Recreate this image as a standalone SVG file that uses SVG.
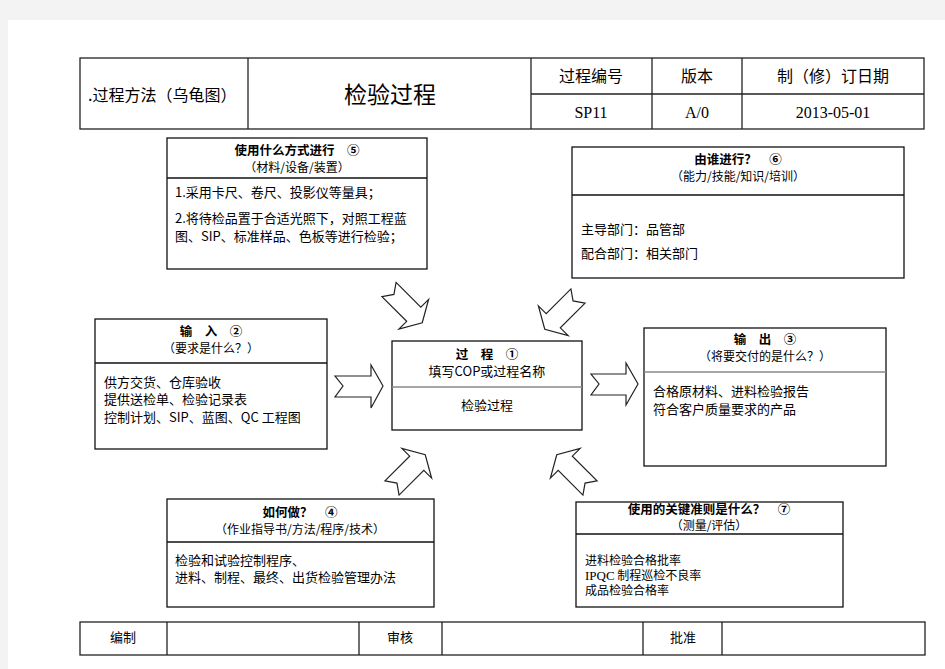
<svg xmlns="http://www.w3.org/2000/svg" width="945" height="669" viewBox="0 0 945 669">
<defs>
<style>
.t{font-family:"Noto Sans CJK SC","Liberation Sans",sans-serif;fill:#000}
.s{font-family:"Liberation Serif","Noto Sans CJK SC",serif;fill:#000}
.b{font-size:13px}
.h{font-size:12.5px;font-weight:bold}
.st{font-size:12px}
.sm{font-size:12px}
.box{fill:#fff;stroke:#111;stroke-width:1.3}
.sep{stroke:#111;stroke-width:1.6}
.sepg{stroke:#888;stroke-width:1.3}
.cell{fill:none;stroke:#222;stroke-width:1.3}
.arr{fill:#fff;stroke:#222;stroke-width:1.2;stroke-linejoin:miter}
</style>
<polygon id="ar" points="0,-10 35,-10 35,-21 47,0 35,21 35,10 0,10 7,0"/>
</defs>
<rect x="0" y="0" width="945" height="669" fill="#f3f3f3"/>
<rect x="8" y="20" width="937" height="649" fill="#fff"/>

<g id="header">
<rect x="80" y="58" width="844" height="71" class="cell"/>
<line x1="248" y1="58" x2="248" y2="129" class="cell" stroke="#888"/>
<line x1="531" y1="58" x2="531" y2="129" class="cell" stroke="#888"/>
<line x1="652" y1="58" x2="652" y2="129" class="cell" stroke="#888"/>
<line x1="742" y1="58" x2="742" y2="129" class="cell"/>
<line x1="531" y1="94" x2="924" y2="94" class="cell"/>
<text x="88" y="101" class="t" font-size="16">.过程方法（乌龟图）</text>
<text x="390" y="103" class="t" font-size="23" text-anchor="middle">检验过程</text>
<text x="591" y="82" class="t" font-size="16" text-anchor="middle">过程编号</text>
<text x="697" y="82" class="t" font-size="16" text-anchor="middle">版本</text>
<text x="833" y="82" class="t" font-size="16" text-anchor="middle">制（修）订日期</text>
<text x="591" y="118" class="s" font-size="16" text-anchor="middle">SP11</text>
<text x="697" y="118" class="s" font-size="16" text-anchor="middle">A/0</text>
<text x="833" y="118" class="s" font-size="16" text-anchor="middle">2013-05-01</text>
</g>

<g id="node5">
<rect x="167" y="138" width="260" height="131" class="box"/>
<line x1="167" y1="178" x2="427" y2="178" class="sep"/>
<text x="297" y="155" class="t h" text-anchor="middle">使用什么方式进行　⑤</text>
<text x="297" y="172" class="t st" text-anchor="middle">（材料/设备/装置）</text>
<text x="175" y="197" class="t b">1.采用卡尺、卷尺、投影仪等量具；</text>
<text x="175" y="223" class="t b">2.将待检品置于合适光照下，对照工程蓝</text>
<text x="175" y="241" class="t b">图、SIP、标准样品、色板等进行检验；</text>
</g>

<g id="node6">
<rect x="572" y="147" width="332" height="131" class="box"/>
<line x1="572" y1="195" x2="904" y2="195" class="sep"/>
<text x="738" y="164" class="t h" text-anchor="middle">由谁进行？　⑥</text>
<text x="738" y="181" class="t st" text-anchor="middle">（能力/技能/知识/培训）</text>
<text x="581" y="234" class="t b">主导部门：品管部</text>
<text x="581" y="258" class="t b">配合部门：相关部门</text>
</g>

<g id="node2">
<rect x="95" y="319" width="232" height="130" class="box"/>
<line x1="95" y1="363" x2="327" y2="363" class="sep"/>
<text x="211" y="336" class="t h" text-anchor="middle">输　入　②</text>
<text x="211" y="353" class="t st" text-anchor="middle">（要求是什么？）</text>
<text x="104" y="387" class="t b">供方交货、仓库验收</text>
<text x="104" y="404" class="t b">提供送检单、检验记录表</text>
<text x="104" y="422" class="t b">控制计划、SIP、蓝图、QC 工程图</text>
</g>

<g id="node1">
<rect x="392" y="341" width="190" height="89" class="box"/>
<line x1="392" y1="387" x2="582" y2="387" class="sepg"/>
<text x="487" y="359" class="t h" text-anchor="middle">过　程　①</text>
<text x="487" y="376" class="t b" text-anchor="middle">填写COP或过程名称</text>
<text x="487" y="410" class="t b" text-anchor="middle">检验过程</text>
</g>

<g id="node3">
<rect x="644" y="328" width="242" height="138" class="box"/>
<line x1="644" y1="372" x2="886" y2="372" class="sepg"/>
<text x="765" y="344" class="t h" text-anchor="middle">输　出　③</text>
<text x="765" y="361" class="t st" text-anchor="middle">（将要交付的是什么？）</text>
<text x="653" y="396" class="t b">合格原材料、进料检验报告</text>
<text x="653" y="414" class="t b">符合客户质量要求的产品</text>
</g>

<g id="node4">
<rect x="167" y="499" width="267" height="108" class="box"/>
<line x1="167" y1="542" x2="434" y2="542" class="sep"/>
<text x="300" y="517" class="t h" text-anchor="middle">如何做？　④</text>
<text x="300" y="534" class="t st" text-anchor="middle">（作业指导书/方法/程序/技术）</text>
<text x="175" y="565" class="t b">检验和试验控制程序、</text>
<text x="175" y="582" class="t b">进料、制程、最终、出货检验管理办法</text>
</g>

<g id="node7">
<rect x="576" y="502" width="267" height="105" class="box"/>
<line x1="576" y1="534" x2="843" y2="534" class="sep"/>
<text x="709" y="514" class="t h" text-anchor="middle">使用的关键准则是什么？　⑦</text>
<text x="709" y="530" class="t st" text-anchor="middle">（测量/评估）</text>
<text x="585" y="565" class="t sm">进料检验合格批率</text>
<text x="585" y="580" class="t sm"><tspan class="s" fill="#800000" font-size="13">IPQC</tspan> 制程巡检不良率</text>
<text x="585" y="595" class="t sm">成品检验合格率</text>
</g>

<g id="connectors">
<polygon class="arr" points="335,376 371,376 371,365 383,386 371,408 371,397 335,397 343,386"/>
<polygon class="arr" points="591,374 626,374 626,363 638,384 626,405 626,395 591,395 599,384"/>
<use href="#ar" class="arr" transform="translate(389,289.5) rotate(45)"/>
<use href="#ar" class="arr" transform="translate(578,296) rotate(135)"/>
<use href="#ar" class="arr" transform="translate(392,488) rotate(-45)"/>
<use href="#ar" class="arr" transform="translate(590,488) rotate(-135)"/>
</g>

<g id="footer">
<rect x="80" y="622" width="845" height="33" class="cell"/>
<line x1="167" y1="622" x2="167" y2="655" class="cell"/>
<line x1="359" y1="622" x2="359" y2="655" class="cell" stroke="#888"/>
<line x1="442" y1="622" x2="442" y2="655" class="cell"/>
<line x1="643" y1="622" x2="643" y2="655" class="cell"/>
<line x1="722" y1="622" x2="722" y2="655" class="cell"/>
<text x="123" y="642" class="t b" text-anchor="middle">编制</text>
<text x="400" y="642" class="t b" text-anchor="middle">审核</text>
<text x="683" y="642" class="t b" text-anchor="middle">批准</text>
</g>
</svg>
